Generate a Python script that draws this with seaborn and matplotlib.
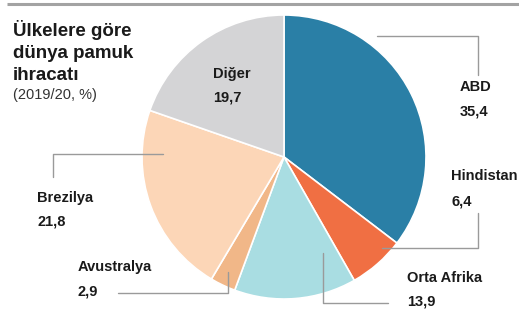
import numpy as np
import seaborn as sns
import matplotlib.pyplot as plt
from matplotlib import font_manager

# data
countries = ['ABD', 'Hindistan', 'Orta Afrika', 'Avustralya', 'Brezilya', 'Diğer']
shares = [35.4, 6.4, 13.9, 2.9, 21.8, 19.7]
share_labels = ['35,4', '6,4', '13,9', '2,9', '21,8', '19,7']
title_lines = ['Ülkelere göre', 'dünya pamuk', 'ihracatı']
subtitle = '(2019/20, %)'

colors = ['#2a7fa6', '#f06f43', '#a9dde2', '#f1b788', '#fcd6b7', '#d4d4d6']

sns.set_theme(style='white')
names = {f.name for f in font_manager.fontManager.ttflist}
narrow = 'Liberation Sans Narrow' if 'Liberation Sans Narrow' in names else 'Liberation Sans'
plt.rcParams['font.family'] = [narrow, 'DejaVu Sans']

W, H = 519, 309
fig = plt.figure(figsize=(W / 100, H / 100), dpi=100)
ax = fig.add_axes([0, 0, 1, 1])

def y(p):
    return H - p

ax.pie(shares, colors=colors, startangle=90, counterclock=False,
       center=(284, y(157)), radius=142,
       wedgeprops=dict(edgecolor='white', linewidth=1.2))
ax.set_xlim(0, W)
ax.set_ylim(0, H)
ax.set_aspect('equal')
ax.axis('off')

# top rule
ax.plot([7, W], [y(4), y(4)], color='#a3a3a3', lw=2.2, solid_capstyle='butt')

# title
for i, t in enumerate(title_lines):
    ax.text(13, y(30 + i * 23), t, fontsize=13.5, fontweight='bold',
            color='#1a1a1a', va='center', ha='left')
ax.text(13, y(95), subtitle, fontsize=10.5, color='#333333', va='center', ha='left')

# leader lines
gray = '#9a9a9a'
leaders = [
    [(377, 36), (478, 36), (478, 75)],
    [(478, 213), (478, 248), (382, 248)],
    [(323, 253), (323, 303), (388, 303)],
    [(118, 293), (228, 293), (228, 272)],
    [(53, 177), (53, 154), (163, 154)],
]
for pts in leaders:
    xs = [p[0] for p in pts]
    ys = [y(p[1]) for p in pts]
    ax.plot(xs, ys, color=gray, lw=1.0)

# labels
label_pos = [(460, 87, 111), (451, 176, 201), (407, 278, 302),
             (78, 267, 291), (37, 198, 221), (213, 74, 98)]
for name, val, (lx, ly1, ly2) in zip(countries, share_labels, label_pos):
    ax.text(lx, y(ly1), name, fontsize=10.5, fontweight='bold', color='#1a1a1a',
            va='center', ha='left')
    ax.text(lx, y(ly2), val, fontsize=10.5, fontweight='bold', color='#1a1a1a',
            va='center', ha='left')

fig.savefig('out.png', dpi=100, facecolor='white')
